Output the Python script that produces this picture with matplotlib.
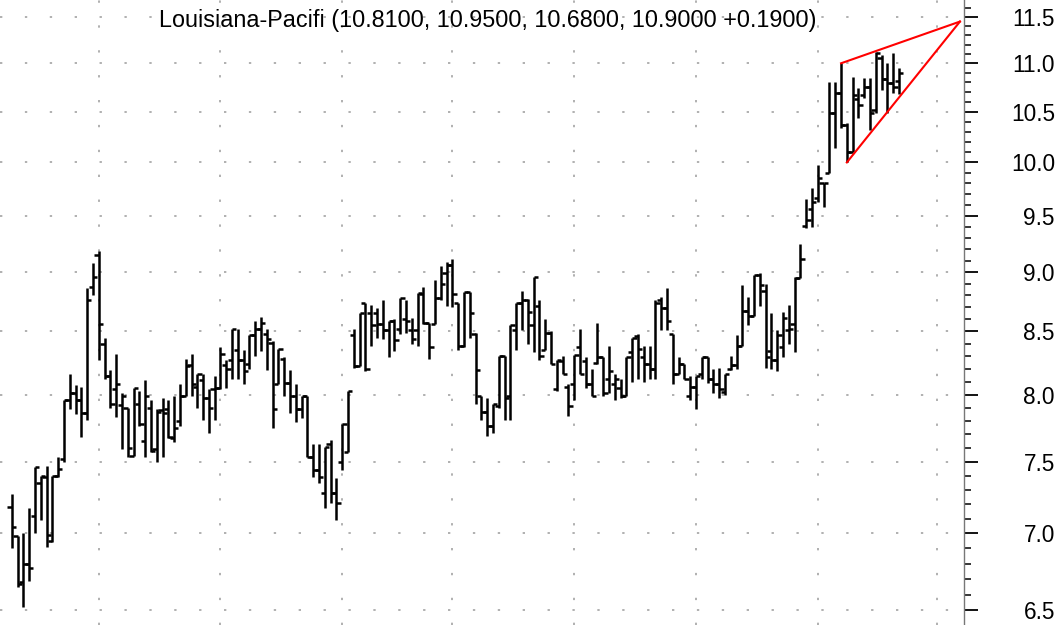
import matplotlib
matplotlib.use('Agg')
import matplotlib.pyplot as plt
import numpy as np
from matplotlib.ticker import FixedLocator, FixedFormatter, NullFormatter

plt.rcParams['font.family'] = ['Liberation Sans', 'DejaVu Sans']

title = "Louisiana-Pacifi (10.8100, 10.9500, 10.6800, 10.9000 +0.1900)"

opens = [7.18, 6.98, 6.68, 6.80, 7.12, 7.35, 7.39, 6.95, 7.40, 7.52,
         7.96, 8.01, 7.96, 7.86, 8.87, 9.15, 8.40, 8.14, 8.04, 7.92,
         7.90, 7.54, 7.93, 7.65, 7.90, 7.59, 7.88, 7.89, 7.67, 7.80,
         7.99, 8.23, 8.06, 8.11, 7.97, 8.04, 8.05, 8.23, 8.27, 8.35,
         8.27, 8.24, 8.47, 8.52, 8.48, 8.41, 8.08, 8.28, 8.09, 7.99,
         7.89, 7.99, 7.53, 7.44, 7.28, 7.63, 7.28, 7.50, 7.57, 8.47,
         8.22, 8.74, 8.65, 8.65, 8.56, 8.51, 8.59, 8.52, 8.60, 8.51,
         8.51, 8.81, 8.57, 8.56, 8.78, 8.99, 9.06, 8.74, 8.38, 8.83,
         8.48, 7.99, 7.87, 7.76, 7.91, 8.30, 7.99, 8.51, 8.74, 8.76,
         8.55, 8.71, 8.35, 8.49, 8.04, 8.26, 8.06, 8.08, 8.37, 8.26,
         8.08, 8.25, 8.29, 8.12, 8.08, 8.05, 7.99, 8.33, 8.46, 8.29,
         8.24, 8.20, 8.76, 8.69, 8.48, 8.16, 8.24, 7.99, 8.06, 8.16,
         8.29, 8.12, 8.08, 8.02, 8.20, 8.23, 8.38, 8.67, 8.63, 8.97,
         8.84, 8.34, 8.27, 8.37, 8.51, 8.56, 8.95, 9.41, 9.56, 9.66,
         9.80, 9.90, 10.49, 10.69, 10.37, 10.10, 10.63, 10.67, 10.75, 10.52,
         11.06, 10.84, 10.79, 10.81]

highs = [7.27, 6.98, 7.00, 7.17, 7.46, 7.40, 7.47, 7.40, 7.53, 7.96,
         8.16, 8.07, 8.06, 8.86, 9.08, 9.18, 8.45, 8.19, 8.32, 8.01,
         7.90, 8.05, 8.03, 8.11, 7.96, 7.89, 7.97, 7.96, 7.99, 8.08,
         8.28, 8.32, 8.16, 8.16, 8.04, 8.14, 8.37, 8.27, 8.52, 8.52,
         8.35, 8.47, 8.59, 8.62, 8.52, 8.42, 8.36, 8.29, 8.19, 8.08,
         7.99, 7.99, 7.63, 7.63, 7.61, 7.66, 7.38, 7.78, 8.03, 8.52,
         8.65, 8.74, 8.72, 8.69, 8.76, 8.59, 8.60, 8.78, 8.76, 8.61,
         8.82, 8.87, 8.57, 8.93, 9.05, 9.09, 9.11, 8.74, 8.83, 8.83,
         8.49, 7.99, 7.97, 7.93, 8.30, 8.30, 8.55, 8.74, 8.84, 8.77,
         8.96, 8.76, 8.60, 8.50, 8.27, 8.30, 8.08, 8.31, 8.52, 8.29,
         8.20, 8.57, 8.29, 8.38, 8.16, 8.12, 8.29, 8.45, 8.48, 8.38,
         8.38, 8.76, 8.79, 8.86, 8.48, 8.29, 8.24, 8.14, 8.14, 8.29,
         8.29, 8.20, 8.21, 8.16, 8.30, 8.47, 8.89, 8.79, 8.97, 8.99,
         8.90, 8.65, 8.51, 8.66, 8.72, 8.96, 9.25, 9.65, 9.76, 9.98,
         9.80, 10.80, 10.80, 11.00, 10.39, 10.86, 10.74, 10.85, 10.85, 11.12,
         11.09, 11.00, 11.11, 10.95]

lows = [6.90, 6.65, 6.52, 6.69, 7.00, 7.09, 6.91, 6.94, 7.39, 7.50,
        7.89, 7.85, 7.68, 7.81, 8.80, 8.27, 8.12, 7.90, 7.83, 7.59,
        7.53, 7.54, 7.76, 7.53, 7.57, 7.50, 7.53, 7.67, 7.64, 7.76,
        7.99, 7.99, 7.90, 7.81, 7.71, 7.81, 8.04, 8.05, 8.12, 8.12,
        8.08, 8.20, 8.30, 8.34, 8.19, 7.75, 8.08, 7.99, 7.86, 7.79,
        7.82, 7.53, 7.39, 7.35, 7.17, 7.21, 7.09, 7.44, 7.57, 8.21,
        8.22, 8.18, 8.38, 8.45, 8.44, 8.29, 8.34, 8.48, 8.49, 8.40,
        8.38, 8.56, 8.28, 8.56, 8.76, 8.71, 8.70, 8.35, 8.37, 8.45,
        7.93, 7.81, 7.69, 7.71, 7.90, 7.81, 7.81, 8.35, 8.51, 8.40,
        8.33, 8.27, 8.35, 8.24, 8.03, 8.16, 7.84, 7.96, 8.16, 8.05,
        7.99, 8.24, 7.99, 8.01, 7.96, 7.97, 7.99, 8.10, 8.12, 8.10,
        8.12, 8.12, 8.51, 8.51, 8.08, 8.16, 8.12, 7.96, 7.89, 8.12,
        8.09, 8.01, 7.97, 8.00, 8.19, 8.20, 8.38, 8.55, 8.63, 8.71,
        8.21, 8.20, 8.18, 8.29, 8.40, 8.33, 8.95, 9.39, 9.40, 9.63,
        9.58, 9.90, 10.14, 10.34, 10.00, 10.10, 10.44, 10.64, 10.32, 10.49,
        10.72, 10.49, 10.69, 10.68]

closes = [7.04, 6.67, 6.80, 6.77, 7.46, 7.40, 6.99, 7.40, 7.45, 7.96,
          8.01, 7.96, 7.86, 8.76, 8.96, 8.56, 8.14, 7.93, 8.08, 7.99,
          7.60, 8.05, 7.78, 7.99, 7.58, 7.87, 7.86, 7.68, 7.75, 7.99,
          8.22, 8.08, 8.16, 7.97, 7.90, 8.05, 8.32, 8.20, 8.52, 8.27,
          8.18, 8.47, 8.52, 8.57, 8.44, 7.89, 8.36, 8.09, 7.99, 7.89,
          7.99, 7.53, 7.44, 7.39, 7.61, 7.28, 7.21, 7.78, 8.03, 8.22,
          8.65, 8.20, 8.55, 8.56, 8.51, 8.59, 8.43, 8.78, 8.59, 8.44,
          8.82, 8.57, 8.37, 8.78, 8.90, 9.06, 8.81, 8.38, 8.83, 8.65,
          8.19, 7.87, 7.76, 7.93, 8.30, 7.97, 8.55, 8.74, 8.76, 8.66,
          8.96, 8.30, 8.49, 8.24, 8.27, 8.16, 7.91, 8.31, 8.16, 8.08,
          7.99, 8.29, 8.01, 8.18, 8.12, 7.99, 8.29, 8.45, 8.36, 8.24,
          8.20, 8.74, 8.69, 8.59, 8.16, 8.24, 8.12, 8.06, 8.14, 8.29,
          8.12, 8.08, 8.04, 8.16, 8.23, 8.38, 8.67, 8.63, 8.97, 8.89,
          8.29, 8.27, 8.47, 8.61, 8.52, 8.95, 9.11, 9.46, 9.63, 9.85,
          9.80, 10.49, 10.69, 10.37, 10.10, 10.67, 10.57, 10.75, 10.49, 11.11,
          10.84, 10.79, 10.75, 10.90]

# month-start gridline positions (bar index)
month_starts = [15, 36, 57, 76, 97, 118, 139, 159.5]
# price axis labels
price_ticks = [6.5, 7.0, 7.5, 8.0, 8.5, 9.0, 9.5, 10.0, 10.5, 11.0, 11.5]
price_labels = ["6.5", "7.0", "7.5", "8.0", "8.5", "9.0", "9.5", "10.0", "10.5", "11.0", "11.5"]
# trend lines (triangle)
trend_top_x = [143, 163.5]
trend_top_y = [11.00, 11.45]
trend_bot_x = [144, 163.5]
trend_bot_y = [10.00, 11.45]

n = len(opens)
x = np.arange(n)

fig = plt.figure(figsize=(10.63, 6.25), dpi=100)
ax = fig.add_axes([0, 0, 964 / 1063, 1])
ax.set_yscale('log')
ax.set_xlim(-2.02, 164.2)
ax.set_ylim(6.41, 11.69)

grid_kw = dict(color='#b0b0b0', lw=1.4, linestyle=(0, (1.2, 11.6)), zorder=0)
for p in price_ticks:
    ax.axhline(p, **grid_kw)
for m in month_starts:
    ax.axvline(m, **grid_kw)

tw = 0.75
ax.vlines(x, lows, highs, color='black', lw=1.8, zorder=3)
ax.hlines(opens, x - tw, x, color='black', lw=1.8, zorder=3)
ax.hlines(closes, x, x + tw, color='black', lw=1.8, zorder=3)

ax.plot(trend_top_x, trend_top_y, color='#ff0000', lw=1.5, zorder=4, clip_on=False)
ax.plot(trend_bot_x, trend_bot_y, color='#ff0000', lw=1.5, zorder=4, clip_on=False)

for s in ['left', 'top', 'bottom']:
    ax.spines[s].set_visible(False)
ax.spines['right'].set_color('#777777')
ax.spines['right'].set_linewidth(1.0)

ax.set_xticks([])
ax.yaxis.tick_right()
ax.yaxis.set_major_locator(FixedLocator(price_ticks))
ax.yaxis.set_major_formatter(FixedFormatter(price_labels))
minor = [round(v, 1) for v in np.arange(6.4, 11.75, 0.1) if round(v, 1) not in price_ticks]
ax.yaxis.set_minor_locator(FixedLocator(minor))
ax.yaxis.set_minor_formatter(NullFormatter())
ax.tick_params(axis='y', which='major', direction='out', length=10, width=1.3,
               pad=55.5, labelsize=16.3, colors='black')
ax.tick_params(axis='y', which='minor', direction='out', length=5, width=1.1, colors='black')
for lab in ax.get_yticklabels():
    lab.set_horizontalalignment('right')

fig.text(488 / 1063, 1 - 20 / 625, title, ha='center', va='center', fontsize=16.8, color='black')

fig.savefig('out.png', dpi=100)
